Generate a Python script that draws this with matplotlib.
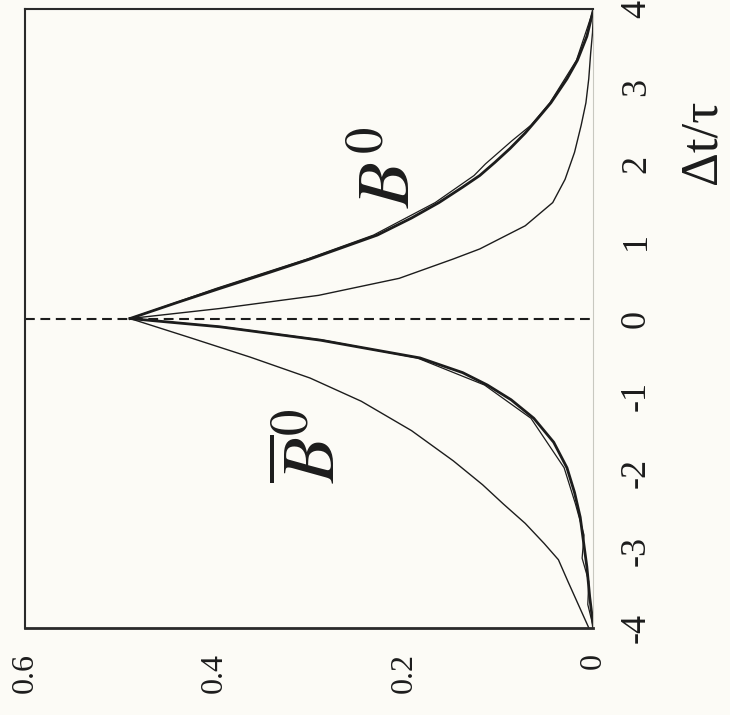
import numpy as np
import matplotlib
matplotlib.use("Agg")
import matplotlib.pyplot as plt

# the figure is printed turned on its side: dt/tau runs upward, P runs leftward
plt.rcParams['font.family'] = ['Liberation Serif', 'DejaVu Serif']
plt.rcParams['mathtext.fontset'] = 'stix'

# B0 tag, dt >= 0 (data, thick)
dt_b0 = [0.0, 0.2, 0.39, 0.6, 0.77, 1.08, 1.3, 1.5, 1.7, 1.85, 2.02, 2.2, 2.4, 2.6, 2.79, 3.1, 3.34, 3.65, 4.0]
p_b0 = [0.489, 0.441, 0.394, 0.341, 0.299, 0.228, 0.192, 0.163, 0.138, 0.120, 0.104, 0.088, 0.072, 0.058, 0.045, 0.028, 0.017, 0.007, 0.0]
# second overlaid data line (small loop near dt ~ 2)
dt_b0_alt = [0.0, 0.39, 0.77, 1.08, 1.5, 1.85, 2.0, 2.15, 2.3, 2.5, 2.79, 3.34, 4.0]
p_b0_alt = [0.489, 0.398, 0.302, 0.232, 0.167, 0.126, 0.114, 0.100, 0.086, 0.066, 0.046, 0.018, 0.0]
# B0 tag, dt >= 0 (thin curve)
dt_b0_th = [0.0, 0.13, 0.30, 0.52, 0.77, 0.90, 1.2, 1.5, 1.8, 2.15, 2.5, 2.79, 3.1, 3.43, 3.7, 4.0]
p_b0_th = [0.489, 0.394, 0.290, 0.205, 0.148, 0.120, 0.072, 0.043, 0.030, 0.020, 0.013, 0.008, 0.005, 0.003, 0.001, 0.0]

# anti-B0 tag, dt <= 0 (data, thick)
dt_b0b = [0.0, -0.107, -0.28, -0.51, -0.7, -0.86, -1.05, -1.29, -1.6, -1.93, -2.25, -2.57, -3.21, -3.6, -4.0]
p_b0b = [0.489, 0.394, 0.288, 0.183, 0.138, 0.112, 0.087, 0.063, 0.042, 0.028, 0.020, 0.014, 0.007, 0.004, 0.0]
dt_b0b_alt = [0.0, -0.107, -0.28, -0.51, -0.86, -1.29, -1.93, -2.4, -2.8, -3.1, -3.4, -3.7, -4.0]
p_b0b_alt = [0.489, 0.392, 0.285, 0.186, 0.115, 0.066, 0.031, 0.019, 0.010, 0.012, 0.005, 0.006, 0.0]
# anti-B0 tag, dt <= 0 (thin curve)
dt_b0b_th = [0.0, -0.25, -0.5, -0.77, -1.07, -1.45, -1.84, -2.15, -2.40, -2.65, -2.91, -3.12, -3.4, -3.7, -4.0]
p_b0b_th = [0.489, 0.425, 0.362, 0.299, 0.245, 0.192, 0.148, 0.117, 0.095, 0.072, 0.052, 0.037, 0.027, 0.016, 0.005]

p_ticks = [0, 0.2, 0.4, 0.6]
p_labels = ['0', '0.2', '0.4', '0.6']
dt_ticks = [-4, -3, -2, -1, 0, 1, 2, 3, 4]
dt_labels = ['-4', '-3', '-2', '-1', '0', '1', '2', '3', '4']

ink = '#1c1c1c'
paper = '#fcfbf6'

fig = plt.figure(figsize=(7.3, 7.15), dpi=100, facecolor=paper)
ax = fig.add_axes([0.034, 0.122, 0.779, 0.865])
ax.set_facecolor(paper)

ax.plot(p_b0_th, dt_b0_th, color=ink, lw=1.0)
ax.plot(p_b0b_th, dt_b0b_th, color=ink, lw=1.0)
ax.plot(p_b0_alt, dt_b0_alt, color=ink, lw=0.9)
ax.plot(p_b0b_alt, dt_b0b_alt, color=ink, lw=0.9)
ax.plot(p_b0, dt_b0, color=ink, lw=2.0)
ax.plot(p_b0b, dt_b0b, color=ink, lw=2.0)

# dashed line at dt = 0
ax.axhline(0, color=ink, lw=1.5, linestyle=(0, (4.7, 2.7)))

ax.set_xlim(0.6, 0)
ax.set_ylim(-4, 4)

ax.set_xticks(p_ticks)
ax.set_xticklabels(p_labels, rotation=90, fontsize=23, va='top', ha='center')
ax.yaxis.tick_right()
ax.set_yticks(dt_ticks)
ax.set_yticklabels(dt_labels, rotation=90, fontsize=26, va='center', ha='left')
ax.tick_params(axis='x', length=0, pad=18, colors=ink)
ax.tick_params(axis='y', length=0, pad=19, colors=ink)

for side in ['left', 'top']:
    ax.spines[side].set_linewidth(1.5)
    ax.spines[side].set_color('#2a2a2a')
ax.spines['bottom'].set_linewidth(2.0)
ax.spines['bottom'].set_color('#2a2a2a')
ax.spines['right'].set_linewidth(0.8)
ax.spines['right'].set_color('#c8c8c0')

ax.text(0.212, 1.95, r'$B^{0}$', rotation=90, fontsize=54, color=ink,
        ha='center', va='center')
ax.text(0.294, -1.65, r'$\overline{B}^{0}$', rotation=90, fontsize=54, color=ink,
        ha='center', va='center')
ax.text(1.192, 0.785, 'Δt/τ', rotation=90, fontsize=38, color=ink,
        ha='center', va='center', transform=ax.transAxes)

fig.savefig('out.png', dpi=100, facecolor=paper)
